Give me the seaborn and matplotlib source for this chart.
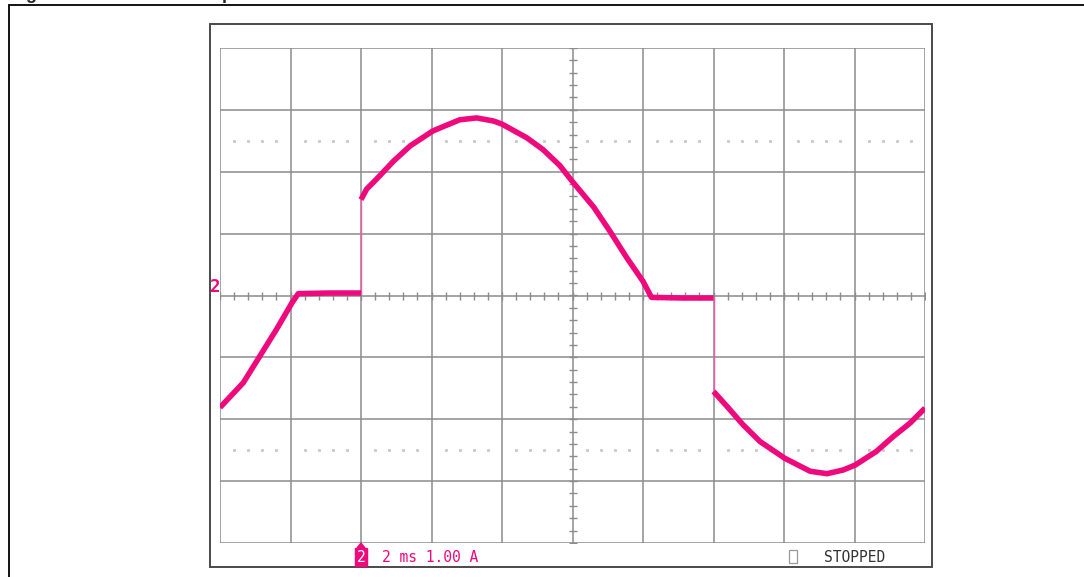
import numpy as np
import pandas as pd
import matplotlib
matplotlib.use("Agg")
import matplotlib.pyplot as plt
from matplotlib.patches import Rectangle, Polygon
from matplotlib.lines import Line2D
import seaborn as sns

# scope trace, 2 ms/div and 1 A/div (jumps are the repeated times)
time_ms = [0.0, 0.66, 1.13, 1.60, 2.04, 2.22, 3.10, 4.0,
           4.0, 4.16, 4.44, 4.92, 5.40, 6.04, 6.80, 7.28, 7.76, 8.0, 8.70,
           9.16, 9.64, 10.0, 10.60, 11.06, 11.54, 12.0, 12.24, 13.10, 14.0,
           14.0, 14.38, 14.84, 15.32, 16.02, 16.74, 17.22, 17.68, 18.02,
           18.62, 19.10, 19.58, 20.0]
current_a = [-1.81, -1.41, -0.98, -0.55, -0.12, 0.03, 0.04, 0.04,
             1.55, 1.72, 1.88, 2.17, 2.42, 2.66, 2.84, 2.87, 2.82, 2.77, 2.55,
             2.36, 2.10, 1.84, 1.43, 1.04, 0.61, 0.23, -0.03, -0.04, -0.04,
             -1.55, -1.79, -2.09, -2.36, -2.63, -2.84, -2.88, -2.82, -2.74,
             -2.52, -2.28, -2.06, -1.82]

ch_label = "2"
timebase_text = "2 ms 1.00 A"
status_text = "STOPPED"
fig_number = "Figure 12."
fig_title = "Output current waveform"

W, H = 1084, 577
trace_col = "#EE0A7C"
grid_col = "#8c8c8c"

sns.set_style("white")

fig = plt.figure(figsize=(W / 100, H / 100), dpi=100)


def fx(x):
    return x / W


def fy(y):
    return 1 - y / H


# plot area = the 10 x 8 graticule
ax = fig.add_axes([fx(220), fy(543), fx(925) - fx(220), fy(48) - fy(543)])
ax.set_xlim(0, 20)
ax.set_ylim(-4, 4)
for s in ax.spines.values():
    s.set_visible(False)
ax.set_xticks([])
ax.set_yticks([])
ax.set_facecolor("none")

for xv in np.arange(0, 20.1, 2):
    ax.axvline(xv, color=grid_col, lw=1.1, zorder=1)
for yv in np.arange(-4, 4.1, 1):
    ax.axhline(yv, color=grid_col, lw=1.1, zorder=1)

# minor ticks on the centre cross
mx = np.arange(0, 20.01, 0.4)
ax.plot(mx, np.zeros_like(mx), ls="none", marker="|", ms=6, mew=1.0,
        color=grid_col, zorder=1)
my = np.arange(-4, 4.01, 0.2)
ax.plot(np.full_like(my, 10.0), my, ls="none", marker="_", ms=6, mew=1.0,
        color=grid_col, zorder=1)

# faint dotted rows
dx = np.array([v for v in np.arange(0.4, 20, 0.4) if abs(v / 2 - round(v / 2)) > 0.01])
for yv in (2.5, -2.5):
    ax.plot(dx, np.full_like(dx, yv), ls="none", marker="s", ms=1.2,
            color="#cccccc", zorder=1)

# trace: thick segments, thin jumps
df = pd.DataFrame({"t": time_ms, "i": current_a})
seg = [0]
for k in range(1, len(time_ms)):
    seg.append(seg[-1] + (1 if time_ms[k] == time_ms[k - 1] else 0))
df["seg"] = seg
sns.lineplot(data=df, x="t", y="i", units="seg", estimator=None, sort=False,
             color=trace_col, lw=4.0, ax=ax, zorder=3,
             solid_capstyle="butt", solid_joinstyle="round")
for k in range(1, len(time_ms)):
    if time_ms[k] == time_ms[k - 1]:
        ax.plot([time_ms[k - 1], time_ms[k]], [current_a[k - 1], current_a[k]],
                color="#F25AA6", lw=1.0, zorder=2)
ax.set_xlabel("")
ax.set_ylabel("")
ax.set_xlim(0, 20)
ax.set_ylim(-4, 4)

# outer frame and scope screen frame
fig.add_artist(Line2D([fx(9), fx(9)], [0, fy(5)], color="black", lw=1.3,
                      transform=fig.transFigure))
fig.add_artist(Line2D([fx(9), 1], [fy(5), fy(5)], color="black", lw=1.3,
                      transform=fig.transFigure))
fig.add_artist(Rectangle((fx(210), fy(567)), fx(932) - fx(210), fy(24) - fy(567),
                         fill=False, edgecolor="#4a4a4a", lw=1.4,
                         transform=fig.transFigure, zorder=0))

# title, cut off by the top edge as in the source page
fig.text(fx(10), fy(-1), fig_number, fontsize=13, fontweight="bold",
         family="Liberation Sans", va="baseline", ha="left")
fig.text(fx(191), fy(-1), fig_title, fontsize=13, fontweight="bold",
         family="Liberation Sans", va="baseline", ha="left")

# channel ground marker
fig.text(fx(210), fy(287), ch_label, color=trace_col, fontsize=12.5,
         fontweight="bold", family="DejaVu Sans Mono", va="center", ha="left")

# trigger marker and readout
fig.add_artist(Polygon([[fx(357), fy(548)], [fx(365), fy(548)], [fx(361), fy(543)]],
                       closed=True, color=trace_col, transform=fig.transFigure))
fig.text(fx(361), fy(557), ch_label, color="white", fontsize=10.5,
         family="DejaVu Sans Mono", va="center", ha="center",
         bbox=dict(boxstyle="square,pad=0.08", fc=trace_col, ec=trace_col))
fig.text(fx(382), fy(557), timebase_text, color=trace_col, fontsize=10.5,
         family="DejaVu Sans Mono", va="center", ha="left")
fig.add_artist(Rectangle((fx(789), fy(563)), fx(797) - fx(789), fy(550) - fy(563),
                         fill=False, edgecolor="#999999", lw=0.9,
                         transform=fig.transFigure))
fig.text(fx(824), fy(557), status_text, color="#333333", fontsize=10.5,
         family="DejaVu Sans Mono", va="center", ha="left")

fig.savefig("out.png", dpi=100, facecolor="white")
